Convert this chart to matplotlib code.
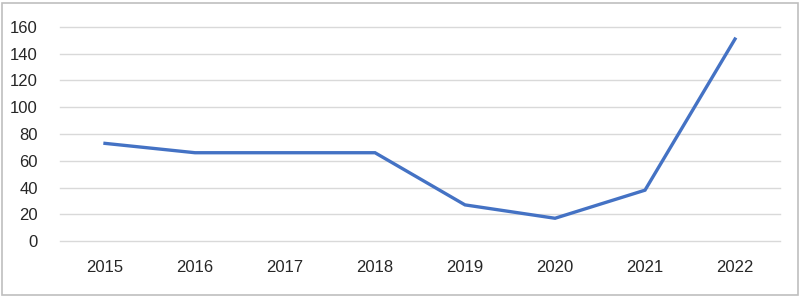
import matplotlib.pyplot as plt
from matplotlib.patches import Rectangle

years = ["2015", "2016", "2017", "2018", "2019", "2020", "2021", "2022"]
values = [73, 66, 66, 66, 27, 17, 38, 151]
yticks = [0, 20, 40, 60, 80, 100, 120, 140, 160]

plt.rcParams['font.family'] = ['Liberation Sans', 'DejaVu Sans']

fig = plt.figure(figsize=(8.02, 2.98), dpi=100)
ax = fig.add_axes([60 / 802, 1 - 241 / 298, 720 / 802, 214 / 298])

x = list(range(len(years)))
ax.plot(x, values, color="#4472C4", linewidth=2.4, solid_joinstyle="miter")

ax.set_xlim(-0.5, len(years) - 0.5)
ax.set_ylim(0, 160)
ax.set_yticks(yticks)
ax.set_xticks(x)
ax.set_xticklabels(years)
ax.grid(axis="y", color="#D9D9D9", linewidth=1)
for gl in ax.get_ygridlines():
    gl.set_clip_on(False)
ax.set_axisbelow(True)
for s in ax.spines.values():
    s.set_visible(False)
ax.tick_params(length=0, labelsize=12, labelcolor="#262626")
ax.tick_params(axis="y", pad=16)
ax.tick_params(axis="x", pad=14)

# outer chart border
fig.patches.append(Rectangle((2 / 802, 3 / 298), 796 / 802, 292 / 298,
                             transform=fig.transFigure, fill=False,
                             edgecolor="#BFBFBF", linewidth=1.2))

fig.savefig("out.png", dpi=100)
